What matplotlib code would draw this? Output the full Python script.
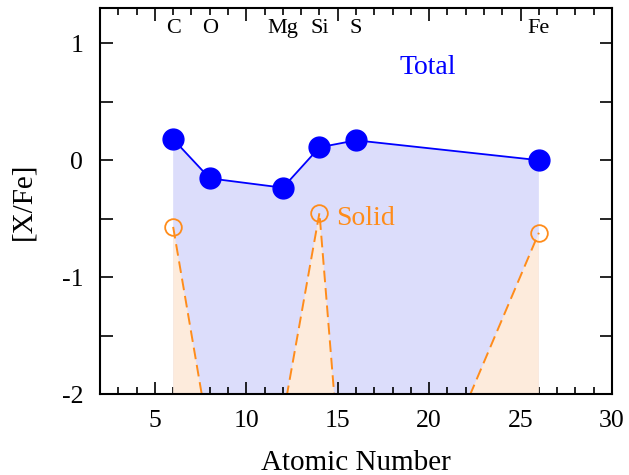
import matplotlib
matplotlib.use("Agg")
import matplotlib.pyplot as plt
from matplotlib.ticker import MultipleLocator

plt.rcParams['font.family'] = ['Liberation Serif', 'DejaVu Serif']
plt.rcParams['axes.unicode_minus'] = False

# Elemental abundance pattern
elements = ["C", "O", "Mg", "Si", "S", "Fe"]
atomic_number = [6, 8, 12, 14, 16, 26]
total_abund = [0.18, -0.155, -0.235, 0.11, 0.17, 0.0]
solid_abund = [-0.57, -2.4, -2.2, -0.45, -4.3, -0.62]

blue = "#0000ff"
orange = "#ff8c1a"

fig = plt.figure(figsize=(6.29, 4.75), dpi=100)
ax = fig.add_axes([0.159, 0.170, 0.814, 0.813])

ax.fill_between(atomic_number, total_abund, -10, color="#dcddfb", lw=0, zorder=1)
ax.fill_between(atomic_number, solid_abund, -10, color="#fdebdc", lw=0, zorder=2)

ax.plot(atomic_number, total_abund, color=blue, lw=1.3, marker="o",
        markersize=15, zorder=4)
ax.plot(atomic_number, solid_abund, color=orange, lw=1.4, ls=(0, (6, 3)),
        marker="o", markersize=12, markerfacecolor="none",
        markeredgecolor=orange, markeredgewidth=1.3, zorder=3)

for el, z in zip(elements, atomic_number):
    ax.text(z, 1.125, el, ha="center", va="center", fontsize=16, zorder=5)

ax.text(19.9, 0.79, "Total", color=blue, fontsize=20, ha="center", va="center")
ax.text(16.5, -0.5, "Solid", color=orange, fontsize=20, ha="center", va="center")

ax.set_xlim(2, 30)
ax.set_ylim(-2, 1.3)
ax.xaxis.set_major_locator(MultipleLocator(5))
ax.xaxis.set_minor_locator(MultipleLocator(1))
ax.yaxis.set_major_locator(MultipleLocator(1))
ax.yaxis.set_minor_locator(MultipleLocator(0.5))
ax.tick_params(which="both", direction="in", top=True, right=True,
               labelsize=18.5, width=1.2)
ax.tick_params(which="major", length=9)
ax.tick_params(axis="x", which="minor", length=5)
ax.tick_params(axis="y", which="minor", length=9)
ax.tick_params(axis="x", pad=11)
ax.tick_params(axis="y", pad=12)
for s in ax.spines.values():
    s.set_linewidth(1.5)
    s.set_zorder(6)

ax.set_xlabel("Atomic Number", fontsize=21, labelpad=13)
ax.set_ylabel("[X/Fe]", fontsize=21, labelpad=18)

fig.savefig("out.png", dpi=100)
